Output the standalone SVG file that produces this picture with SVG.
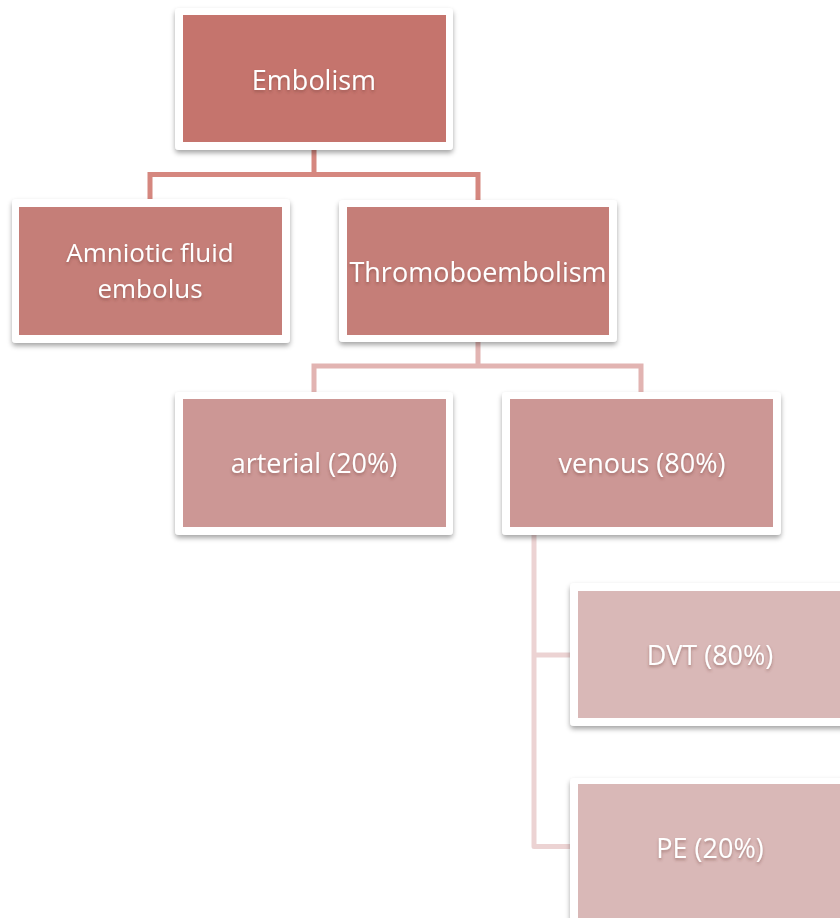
<svg xmlns="http://www.w3.org/2000/svg" width="840" height="918" viewBox="0 0 840 918">
<defs>
<filter id="sh" x="-10%" y="-10%" width="120%" height="130%">
<feDropShadow dx="0" dy="3" stdDeviation="2.5" flood-color="#000" flood-opacity="0.35"/>
</filter>
<filter id="tsh" x="-10%" y="-30%" width="120%" height="160%">
<feDropShadow dx="0" dy="2" stdDeviation="1.5" flood-color="#6a3a36" flood-opacity="0.45"/>
</filter>
</defs>
<style>
.frame{fill:#ffffff;filter:url(#sh)}
.l0{fill:#c5746d}
.l1{fill:#c57e78}
.l2{fill:#cc9795}
.l3{fill:#d9b8b7}
.lbl{font-family:"Open Sans","Liberation Sans",sans-serif;font-size:27px;fill:#ffffff;text-anchor:middle;filter:url(#tsh)}
.sm{font-size:26px}
.c1{stroke:#d5877f;stroke-width:5;fill:none}
.c2{stroke:#e2b4b2;stroke-width:5;fill:none}
.c3{stroke:#ecd3d3;stroke-width:5;fill:none;stroke-linejoin:round}
</style>
<rect width="840" height="918" fill="#ffffff"/>
<g id="connectors">
<path class="c1" d="M314,150 V174.5 M150,200 V174.5 H478 V200"/>
<path class="c2" d="M478,342 V366 M314,392 V366 H641 V392"/>
<path class="c3" d="M534,535 V846.5 H571 M534,655 H571"/>
</g>
<g id="embolism">
<rect class="frame" x="175" y="8" width="278" height="142" rx="4"/>
<rect class="l0" x="183" y="15" width="263" height="127"/>
<text class="lbl" x="314" y="90">Embolism</text>
</g>
<g id="amniotic">
<rect class="frame" x="12" y="199" width="278" height="144" rx="4"/>
<rect class="l1" x="19" y="207" width="263" height="128"/>
<text class="lbl sm" x="150" y="262">Amniotic fluid</text>
<text class="lbl sm" x="150" y="298">embolus</text>
</g>
<g id="thrombo">
<rect class="frame" x="339" y="200" width="278" height="142" rx="4"/>
<rect class="l1" x="347" y="207" width="262" height="128"/>
<text class="lbl" x="478" y="282">Thromoboembolism</text>
</g>
<g id="arterial">
<rect class="frame" x="175" y="392" width="278" height="143" rx="4"/>
<rect class="l2" x="183" y="399" width="263" height="128"/>
<text class="lbl" x="314" y="473">arterial (20%)</text>
</g>
<g id="venous">
<rect class="frame" x="502" y="392" width="279" height="143" rx="4"/>
<rect class="l2" x="510" y="399" width="263" height="128"/>
<text class="lbl" x="642" y="473">venous (80%)</text>
</g>
<g id="dvt">
<rect class="frame" x="570" y="583" width="278" height="143" rx="4"/>
<rect class="l3" x="578" y="591" width="263" height="127"/>
<text class="lbl" x="710" y="665">DVT (80%)</text>
</g>
<g id="pe">
<rect class="frame" x="570" y="778" width="278" height="143" rx="4"/>
<rect class="l3" x="578" y="784" width="263" height="140"/>
<text class="lbl" x="710" y="858">PE (20%)</text>
</g>
</svg>
